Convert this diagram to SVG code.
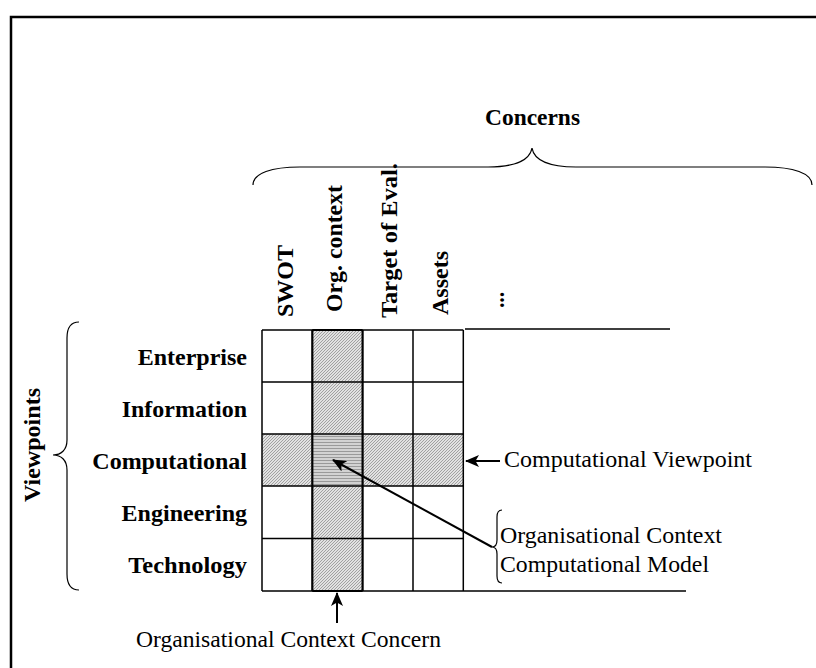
<svg xmlns="http://www.w3.org/2000/svg" width="816" height="668" viewBox="0 0 816 668">
<style>
.b{font-family:"Liberation Serif","Times New Roman",serif;font-weight:bold;font-size:23.5px;fill:#000}
.r{font-family:"Liberation Serif","Times New Roman",serif;font-size:24px;fill:#000}
.g{fill:none;stroke:#000;stroke-width:1.5}
.gt{fill:none;stroke:#000;stroke-width:2.2}
.ln{fill:none;stroke:#000;stroke-width:1.3}
.br{fill:none;stroke:#000;stroke-width:1.2}
.ar{fill:none;stroke:#000;stroke-width:2}
</style>
<defs>
<pattern id="hatch" width="3" height="3" patternUnits="userSpaceOnUse">
<rect width="3" height="3" fill="#e2e2e2"/>
<path d="M-1,1 l2,-2 M0,3 l3,-3 M2,4 l2,-2" stroke="#9a9a9a" stroke-width="0.9"/>
</pattern>
<pattern id="horiz" width="4" height="3" patternUnits="userSpaceOnUse">
<rect width="4" height="3" fill="#d2d2d2"/>
<path d="M0,1.5 h4" stroke="#999" stroke-width="1"/>
</pattern>
<marker id="ah" viewBox="0 0 14 12" refX="13" refY="6" markerWidth="14" markerHeight="12" markerUnits="userSpaceOnUse" orient="auto">
<path d="M0,0 L14,6 L0,12 L3.5,6 Z" fill="#000"/>
</marker>
</defs>
<rect width="816" height="668" fill="#fff"/>
<path d="M11,668 V17 H816" fill="none" stroke="#000" stroke-width="2.5"/>

<g id="concerns-header">
<text class="b" x="485" y="125" textLength="95" lengthAdjust="spacingAndGlyphs">Concerns</text>
<path class="br" d="M253,185 C253,173 272,167 300,167 L488,167 C515,167 530,160 532,148 C534,160 549,167 576,167 L765,167 C793,167 812,173 812,185"/>
</g>

<g id="viewpoints-header">
<text class="b" transform="translate(40,502) rotate(-90)" textLength="114" lengthAdjust="spacingAndGlyphs">Viewpoints</text>
<path class="br" d="M79,322 C71,322 67,328 67,338 L67,440 C67,450 61,455 53,455 C61,455 67,460 67,470 L67,574 C67,584 71,590 79,590"/>
</g>

<g id="column-labels">
<text class="b" transform="translate(293,317) rotate(-90)" textLength="72" lengthAdjust="spacingAndGlyphs">SWOT</text>
<text class="b" transform="translate(342,312) rotate(-90)" textLength="127" lengthAdjust="spacingAndGlyphs">Org. context</text>
<text class="b" transform="translate(397,318) rotate(-90)" textLength="155" lengthAdjust="spacingAndGlyphs">Target of Eval.</text>
<text class="b" transform="translate(448,315) rotate(-90)" textLength="64" lengthAdjust="spacingAndGlyphs">Assets</text>
<text class="b" transform="translate(504,308) rotate(-90)" textLength="16" lengthAdjust="spacingAndGlyphs">...</text>
</g>

<g id="row-labels">
<text class="b" x="137.7" y="365" textLength="109.3" lengthAdjust="spacingAndGlyphs">Enterprise</text>
<text class="b" x="121.7" y="417" textLength="125.3" lengthAdjust="spacingAndGlyphs">Information</text>
<text class="b" x="92.3" y="469" textLength="154.7" lengthAdjust="spacingAndGlyphs">Computational</text>
<text class="b" x="121.6" y="521" textLength="125.4" lengthAdjust="spacingAndGlyphs">Engineering</text>
<text class="b" x="128.3" y="573" textLength="118.7" lengthAdjust="spacingAndGlyphs">Technology</text>
</g>

<g id="grid">
<rect x="312.3" y="330" width="50.3" height="261" fill="url(#hatch)"/>
<rect x="262" y="434" width="201.3" height="52" fill="url(#hatch)"/>
<rect x="312.3" y="434" width="50.3" height="52" fill="url(#horiz)"/>
<path class="g" d="M262,330 V591 M413,330 V591 M463.3,330 V591 M262,330 H463.3 M262,382 H463.3 M262,434 H463.3 M262,486 H463.3 M262,538.5 H463.3"/>
<path class="gt" d="M312.3,330 V591 M362.6,330 V591 M312.3,330 H362.6 M312.3,591 H362.6"/>
<path class="ln" d="M465,329 H670 M262,591 H686"/>
</g>

<g id="connectors">
<line class="ar" x1="500" y1="461" x2="466" y2="461" marker-end="url(#ah)"/>
<line class="ar" x1="337" y1="623" x2="337" y2="593" marker-end="url(#ah)"/>
<line class="ar" x1="492" y1="547" x2="333" y2="460" marker-end="url(#ah)"/>
<path class="br" d="M502,510 C498.5,510 497,512.5 497,517 L497,540 C497,544.5 495,547 492,547 C495,547 497,549.5 497,554 L497,576 C497,580.5 498.5,583 502,583"/>
</g>

<g id="annotations">
<text class="r" x="504" y="467" textLength="248" lengthAdjust="spacingAndGlyphs">Computational Viewpoint</text>
<text class="r" x="500" y="543" textLength="222" lengthAdjust="spacingAndGlyphs">Organisational Context</text>
<text class="r" x="500" y="572" textLength="209" lengthAdjust="spacingAndGlyphs">Computational Model</text>
<text class="r" x="136" y="647" textLength="305" lengthAdjust="spacingAndGlyphs">Organisational Context Concern</text>
</g>
</svg>
